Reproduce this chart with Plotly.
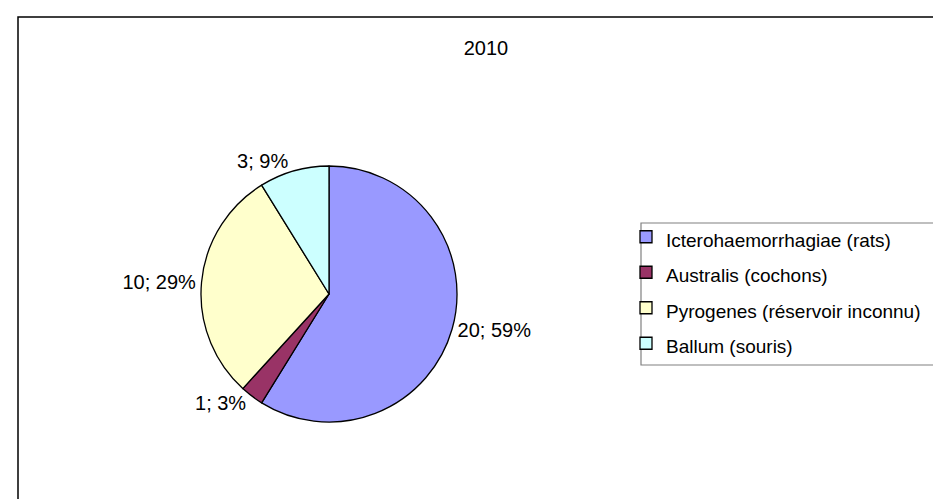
import plotly.graph_objects as go

# serovars and case counts for 2010
labels = ["Icterohaemorrhagiae (rats)", "Australis (cochons)",
          "Pyrogenes (réservoir inconnu)", "Ballum (souris)"]
counts = [20, 1, 10, 3]
colors = ["#9999FF", "#993366", "#FFFFCC", "#CCFFFF"]
title_text = "2010"

W, H = 941, 499
font = "Arial, Liberation Sans, sans-serif"

# bigger legend font only to get the row spacing, text itself is smaller
legend_labels = [f"<span style='font-size:19px'>{s}</span>" for s in labels]

fig = go.Figure(go.Pie(
    labels=legend_labels,
    values=counts,
    sort=False,
    direction="clockwise",
    rotation=0,
    marker=dict(colors=colors, line=dict(color="black", width=1.3)),
    texttemplate="%{value}; %{percent:.0%}",
    textposition="outside",
    textfont=dict(family=font, size=20, color="black"),
    domain=dict(x=[193 / W, 449 / W], y=[1 - 414 / H, 1 - 158 / H]),
    hoverinfo="label+value+percent",
))

fig.update_layout(
    width=W, height=H,
    margin=dict(l=0, r=0, t=0, b=0, autoexpand=False),
    paper_bgcolor="white",
    plot_bgcolor="white",
    font=dict(family=font, color="black"),
    title=dict(text=title_text, x=478 / W, xanchor="center",
               y=1 - 40 / H, yanchor="middle",
               font=dict(family=font, size=20, color="black")),
    legend=dict(x=618 / W, xanchor="left", y=1 - 206 / H, yanchor="top",
                borderwidth=0, bgcolor="rgba(0,0,0,0)",
                font=dict(family=font, size=25, color="black")),
    shapes=[
        # chart area frame
        dict(type="rect", xref="paper", yref="paper",
             x0=10 / W, x1=1.05, y0=-0.05, y1=1 - 9 / H,
             line=dict(color="black", width=1.5)),
        # legend box
        dict(type="rect", xref="paper", yref="paper", layer="below",
             x0=633 / W, x1=1.05, y0=1 - 357 / H, y1=1 - 215 / H,
             line=dict(color="#808080", width=1.2), fillcolor="white"),
    ],
)

fig.write_html("out.html")
